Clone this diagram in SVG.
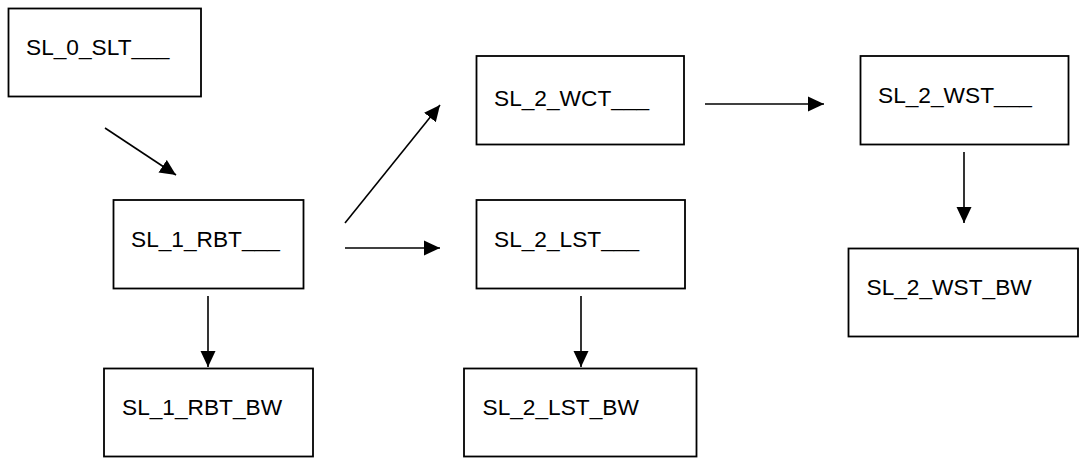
<svg xmlns="http://www.w3.org/2000/svg" width="1080" height="459" viewBox="0 0 1080 459">
<style>
.box{fill:#fff;stroke:#000;stroke-width:1.8}
.lbl{font-family:"Liberation Sans",Arial,sans-serif;font-size:22.7px;fill:#000}
.conn{stroke:#000;stroke-width:1.6;fill:none;marker-end:url(#ah)}
</style>
<defs>
<marker id="ah" markerUnits="userSpaceOnUse" markerWidth="17" markerHeight="16" refX="16" refY="8" orient="auto">
<path d="M0,0.5 L16,8 L0,15.5 z" fill="#000"/>
</marker>
</defs>
<rect width="1080" height="459" fill="#fff"/>
<g id="connectors">
<line class="conn" x1="105" y1="128" x2="176" y2="175"/>
<line class="conn" x1="345" y1="223" x2="440" y2="105"/>
<line class="conn" x1="345" y1="248" x2="440" y2="248"/>
<line class="conn" x1="705" y1="104" x2="824" y2="104"/>
<line class="conn" x1="964" y1="152" x2="964" y2="223"/>
<line class="conn" x1="208" y1="296" x2="208" y2="367"/>
<line class="conn" x1="581" y1="296" x2="581" y2="367"/>
</g>
<g id="n_sl0slt"><rect class="box" x="8.5" y="8.5" width="192.5" height="88"/><text class="lbl" x="26" y="55">SL_0_SLT___</text></g>
<g id="n_sl1rbt"><rect class="box" x="113.5" y="200" width="190" height="88.5"/><text class="lbl" x="131" y="247">SL_1_RBT___</text></g>
<g id="n_sl1rbtbw"><rect class="box" x="104" y="368.5" width="209" height="88"/><text class="lbl" x="122" y="415">SL_1_RBT_BW</text></g>
<g id="n_sl2wct"><rect class="box" x="476.5" y="56" width="207.5" height="88.5"/><text class="lbl" x="494" y="106">SL_2_WCT___</text></g>
<g id="n_sl2lst"><rect class="box" x="476.5" y="200" width="208.5" height="88.5"/><text class="lbl" x="494" y="247">SL_2_LST___</text></g>
<g id="n_sl2lstbw"><rect class="box" x="464" y="368.5" width="232.5" height="88"/><text class="lbl" x="482.5" y="415">SL_2_LST_BW</text></g>
<g id="n_sl2wst"><rect class="box" x="860.5" y="56" width="208" height="88.5"/><text class="lbl" x="878" y="103">SL_2_WST___</text></g>
<g id="n_sl2wstbw"><rect class="box" x="848.5" y="248.5" width="229.5" height="88"/><text class="lbl" x="866.5" y="295">SL_2_WST_BW</text></g>
</svg>
